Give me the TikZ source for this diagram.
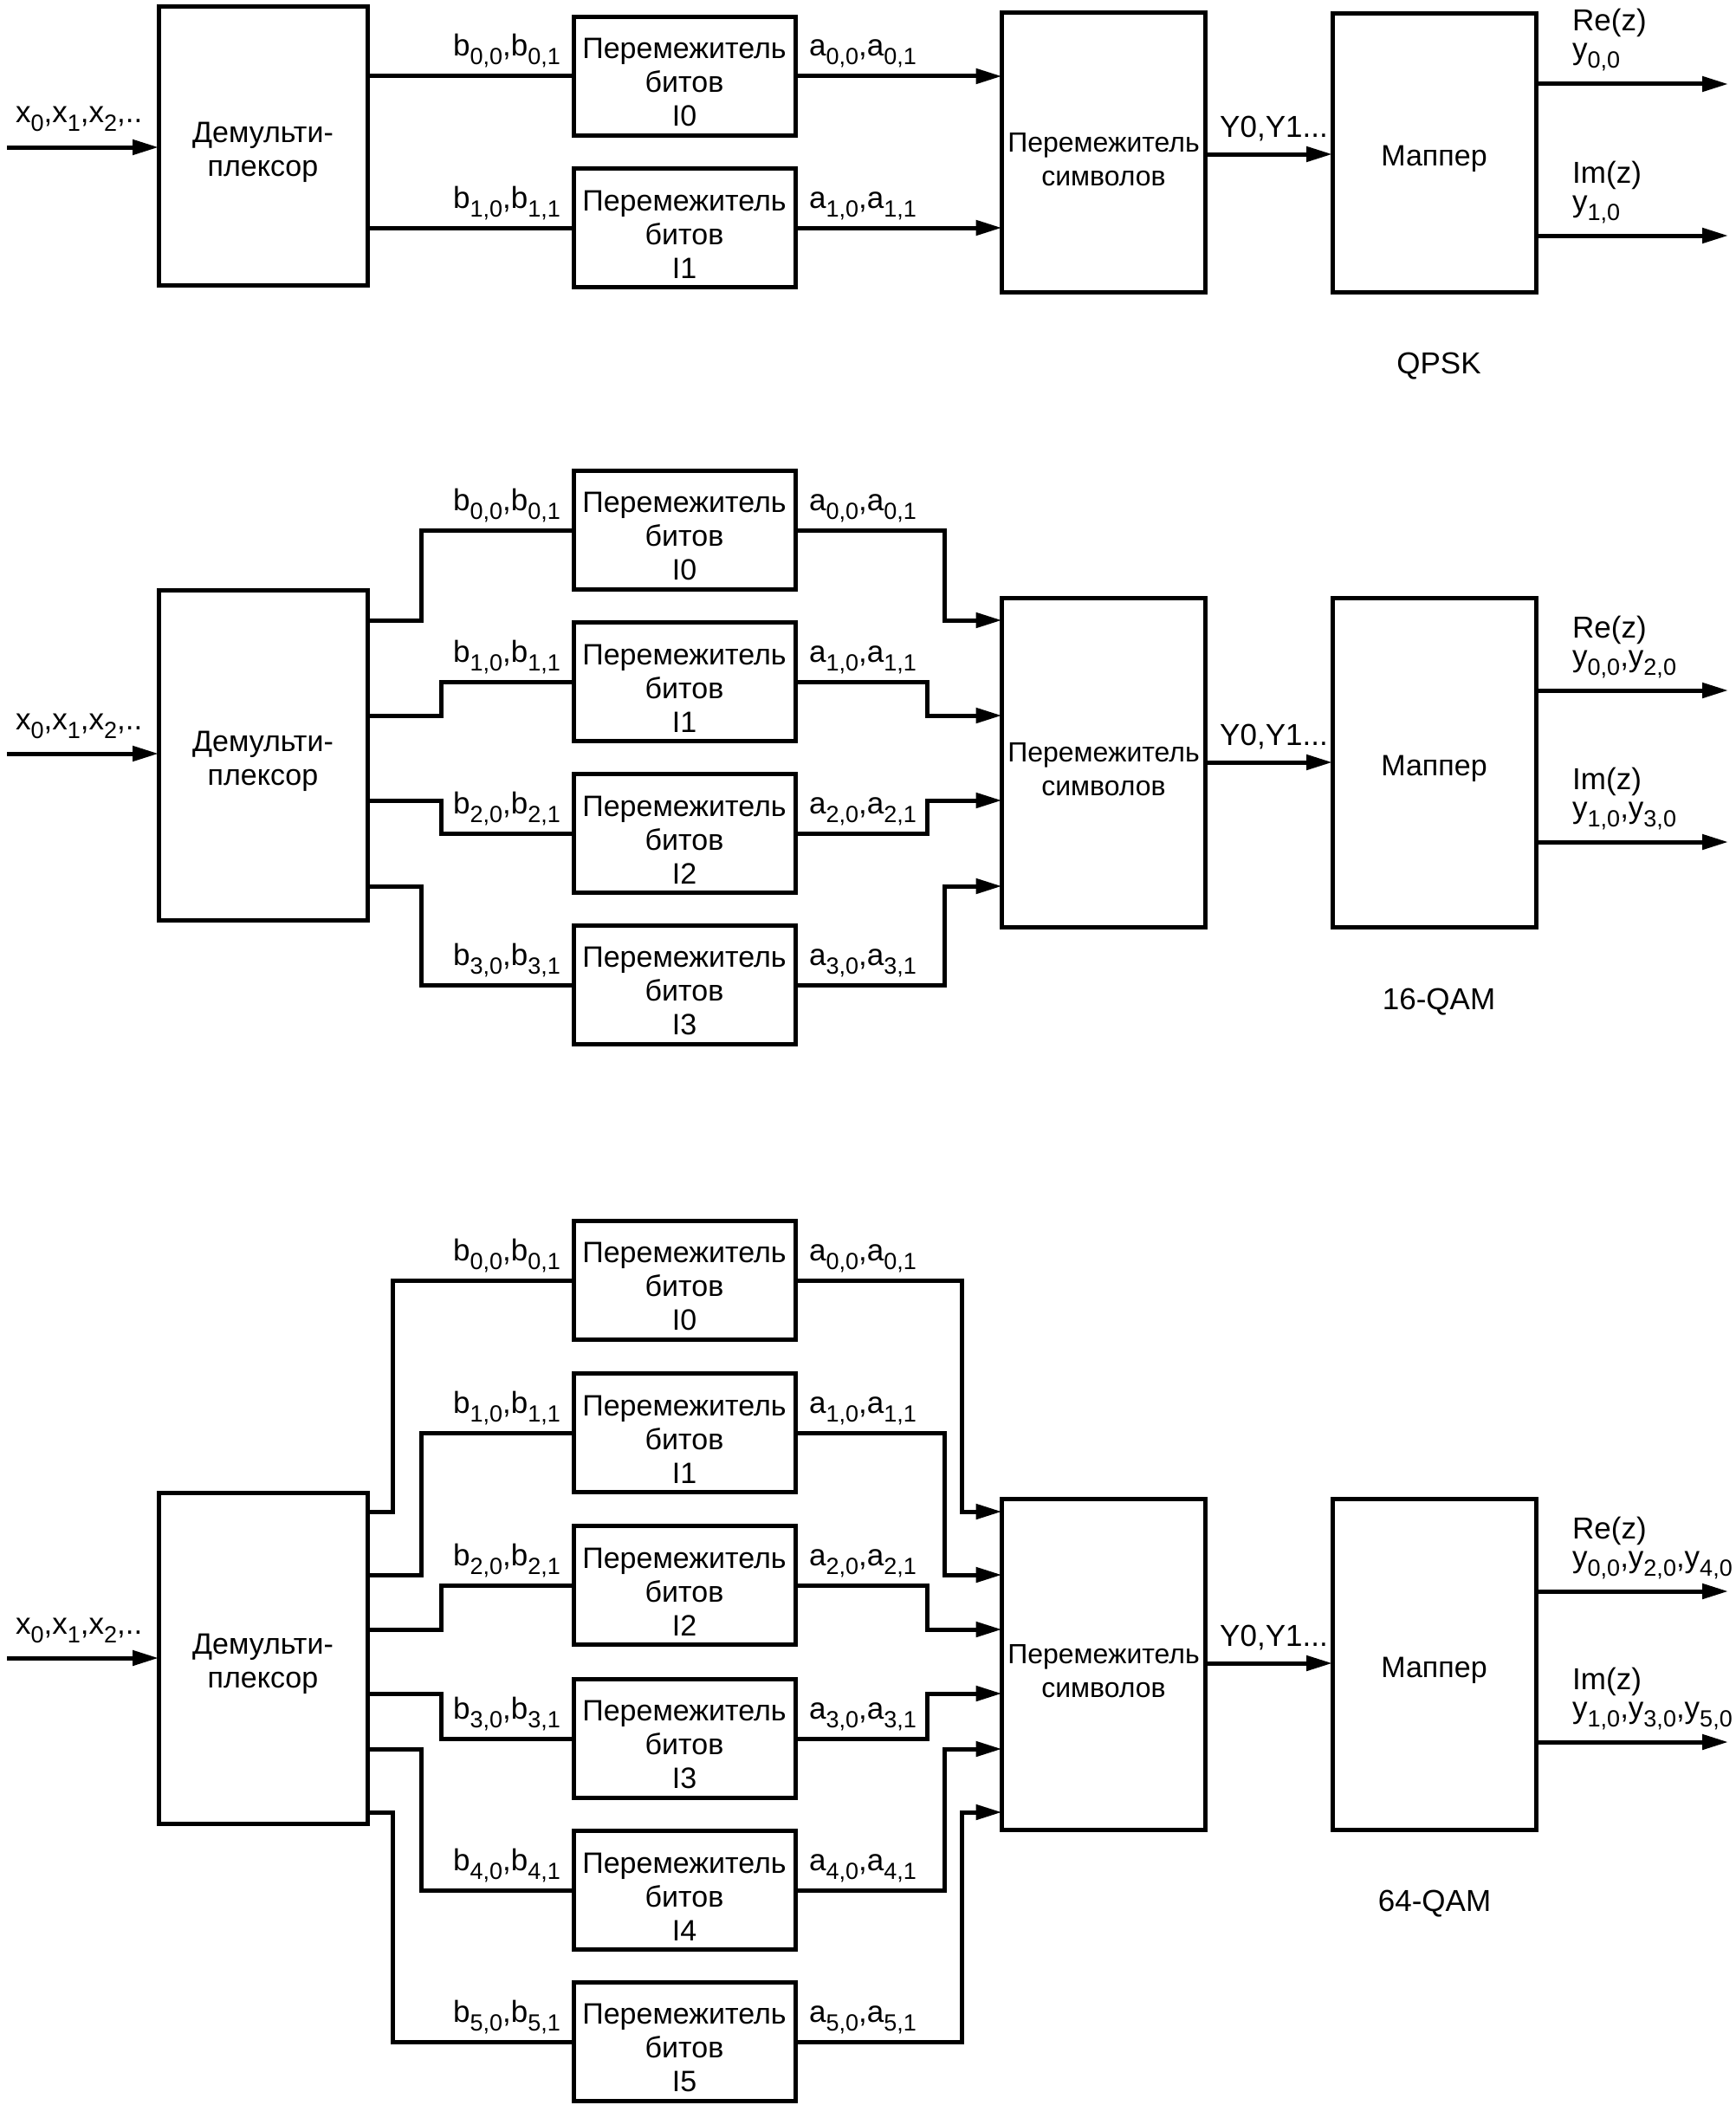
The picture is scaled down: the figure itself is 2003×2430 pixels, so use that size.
\documentclass[tikz,border=0pt]{standalone}
\usepackage{fontspec}
\setmainfont{Liberation Sans}
\usetikzlibrary{arrows.meta}
\newcommand\lo[1]{\raisebox{-10pt}{\fontsize{27}{27}\selectfont #1}}
\newcommand\dn{\rule{0pt}{38pt}}
\begin{document}
\begin{tikzpicture}[x=1pt,y=-1pt,
  box/.style={draw,line width=5pt,inner sep=0pt,outer sep=0pt,align=center,font=\fontsize{34}{39}\selectfont},
  bitbox/.style={box,minimum width=256pt,minimum height=137pt},
  dmx/.style={box,minimum width=241pt},
  bigbox/.style={box,minimum width=235pt},
  symbox/.style={bigbox,font=\fontsize{32}{39}\selectfont},
  ln/.style={line width=5pt},
  arr/.style={line width=5pt,-{Triangle[length=30pt,width=17pt]}},
  lbl/.style={inner sep=0pt,font=\fontsize{35}{39}\selectfont}]
\useasboundingbox (0,0) rectangle (2003,2430);

% ---------------- QPSK ----------------
\node[dmx,minimum height=321pt] (demA) at (303.5,168.5) {\dn Демульти-\\плексор};
\node[symbox,minimum height=322pt] (symA) at (1274,176) {\dn Перемежитель\\символов};
\node[bigbox,minimum height=321pt] (mapA) at (1655.5,176.5) {\dn Маппер};
\coordinate (inA) at (8,170);
\draw[arr] (inA) -- (inA -| demA.west);
\node[lbl,anchor=base west] (xA) at (18,142) {x\lo{0},x\lo{1},x\lo{2},..};
\foreach \i/\yc in {0/88,1/263} {
  \node[bitbox] (bA\i) at (790,\yc) {\dn Перемежитель\\битов\\I\i};
  \draw[ln] (demA.east |- bA\i) -- (bA\i.west);
  \draw[arr] (bA\i.east) -- (bA\i.east -| symA.west);
  \node[lbl,anchor=base east] (lbA\i) at (647,\yc-23) {b\lo{\i,0},b\lo{\i,1}};
  \node[lbl,anchor=base west] (laA\i) at (934,\yc-23) {a\lo{\i,0},a\lo{\i,1}};
}
\coordinate (yA) at (1393,178);
\draw[arr] (yA) -- (yA -| mapA.west);
\node[lbl,anchor=base west] (lyA) at (1408,158) {Y0,Y1...};
\coordinate (oA0) at (1995,97);
\coordinate (oA1) at (1995,272);
\draw[arr] (mapA.east |- oA0) -- (oA0);
\draw[arr] (mapA.east |- oA1) -- (oA1);
\node[lbl,anchor=base west] (reA) at (1815,36) {Re(z)};
\node[lbl,anchor=base west] (yrA) at (1815,69) {y\lo{0,0}};
\node[lbl,anchor=base west] (imA) at (1815,211) {Im(z)};
\node[lbl,anchor=base west] (yiA) at (1815,244) {y\lo{1,0}};
\node[lbl] (tA) at (1661,423) {QPSK};

% ---------------- 16-QAM ----------------
\node[dmx,minimum height=381pt] (demB) at (303.5,871.5) {\dn Демульти-\\плексор};
\node[symbox,minimum height=380pt] (symB) at (1274,880) {\dn Перемежитель\\символов};
\node[bigbox,minimum height=380pt] (mapB) at (1655.5,880) {\dn Маппер};
\coordinate (inB) at (8,870);
\draw[arr] (inB) -- (inB -| demB.west);
\node[lbl,anchor=base west] (xB) at (18,842) {x\lo{0},x\lo{1},x\lo{2},..};
\foreach \i/\yc/\yo/\dl/\dr in {0/612/716/60/172,1/787/826/83/152,2/962/924/83/152,3/1137/1023/60/172} {
  \node[bitbox] (bB\i) at (790,\yc) {\dn Перемежитель\\битов\\I\i};
  \coordinate (dB\i) at (426,\yo);
  \draw[ln] (dB\i) -- ++(\dl,0) |- (bB\i.west);
  \draw[arr] (bB\i.east) -- ++(\dr,0) |- (symB.west |- dB\i);
  \node[lbl,anchor=base east] (lbB\i) at (647,\yc-23) {b\lo{\i,0},b\lo{\i,1}};
  \node[lbl,anchor=base west] (laB\i) at (934,\yc-23) {a\lo{\i,0},a\lo{\i,1}};
}
\coordinate (yB) at (1393,880);
\draw[arr] (yB) -- (yB -| mapB.west);
\node[lbl,anchor=base west] (lyB) at (1408,860) {Y0,Y1...};
\coordinate (oB0) at (1995,797);
\coordinate (oB1) at (1995,972);
\draw[arr] (mapB.east |- oB0) -- (oB0);
\draw[arr] (mapB.east |- oB1) -- (oB1);
\node[lbl,anchor=base west] (reB) at (1815,736) {Re(z)};
\node[lbl,anchor=base west] (yrB) at (1815,769) {y\lo{0,0},y\lo{2,0}};
\node[lbl,anchor=base west] (imB) at (1815,911) {Im(z)};
\node[lbl,anchor=base west] (yiB) at (1815,944) {y\lo{1,0},y\lo{3,0}};
\node[lbl] (tB) at (1661,1157) {16-QAM};

% ---------------- 64-QAM ----------------
\node[dmx,minimum height=382pt] (demC) at (303.5,1914) {\dn Демульти-\\плексор};
\node[symbox,minimum height=382pt] (symC) at (1274,1921) {\dn Перемежитель\\символов};
\node[bigbox,minimum height=382pt] (mapC) at (1655.5,1921) {\dn Маппер};
\coordinate (inC) at (8,1914);
\draw[arr] (inC) -- (inC -| demC.west);
\node[lbl,anchor=base west] (xC) at (18,1886) {x\lo{0},x\lo{1},x\lo{2},..};
\foreach \i/\yc/\yo/\dl/\dr in {0/1478/1745/27/192,1/1654/1818/60/172,2/1830/1881/83/152,3/2007/1955/83/152,4/2182/2019/60/172,5/2357/2092/27/192} {
  \node[bitbox] (bC\i) at (790,\yc) {\dn Перемежитель\\битов\\I\i};
  \coordinate (dC\i) at (426,\yo);
  \draw[ln] (dC\i) -- ++(\dl,0) |- (bC\i.west);
  \draw[arr] (bC\i.east) -- ++(\dr,0) |- (symC.west |- dC\i);
  \node[lbl,anchor=base east] (lbC\i) at (647,\yc-23) {b\lo{\i,0},b\lo{\i,1}};
  \node[lbl,anchor=base west] (laC\i) at (934,\yc-23) {a\lo{\i,0},a\lo{\i,1}};
}
\coordinate (yC) at (1393,1920);
\draw[arr] (yC) -- (yC -| mapC.west);
\node[lbl,anchor=base west] (lyC) at (1408,1900) {Y0,Y1...};
\coordinate (oC0) at (1995,1837);
\coordinate (oC1) at (1995,2011);
\draw[arr] (mapC.east |- oC0) -- (oC0);
\draw[arr] (mapC.east |- oC1) -- (oC1);
\node[lbl,anchor=base west] (reC) at (1815,1776) {Re(z)};
\node[lbl,anchor=base west] (yrC) at (1815,1809) {y\lo{0,0},y\lo{2,0},y\lo{4,0}};
\node[lbl,anchor=base west] (imC) at (1815,1950) {Im(z)};
\node[lbl,anchor=base west] (yiC) at (1815,1983) {y\lo{1,0},y\lo{3,0},y\lo{5,0}};
\node[lbl] (tC) at (1656,2198) {64-QAM};
\end{tikzpicture}
\end{document}
